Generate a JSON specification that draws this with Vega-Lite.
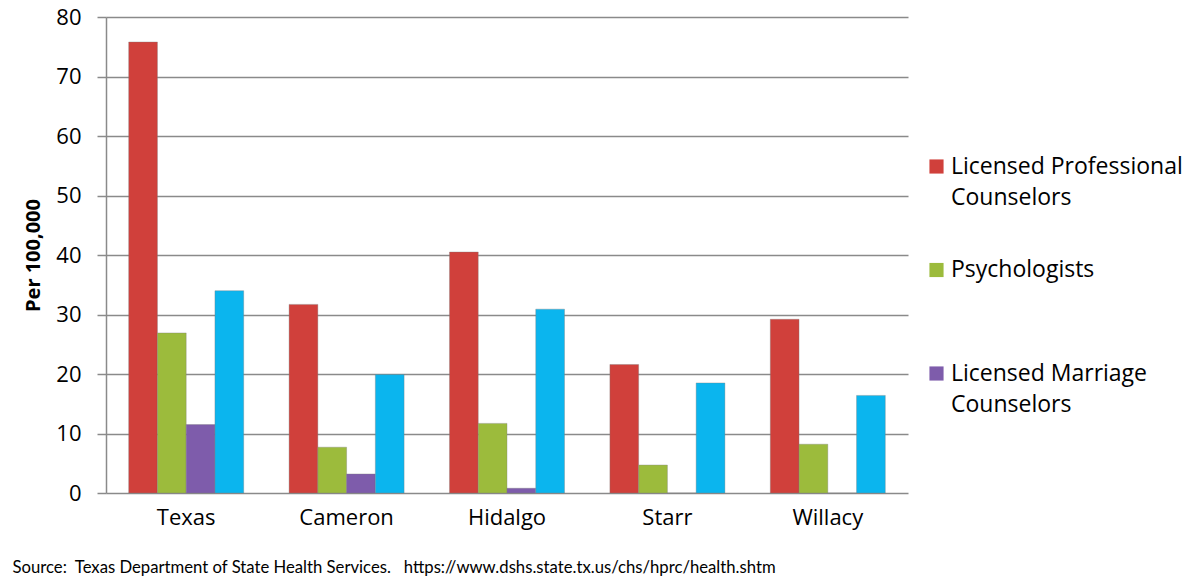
{
  "$schema": "https://vega.github.io/schema/vega-lite/v6.json",
  "autosize": {"type": "none"},
  "width": 802,
  "height": 476,
  "padding": {"left": 106, "top": 17, "right": 278, "bottom": 86},
  "background": "white",
  "title": {
    "text": "2014",
    "fontSize": 36,
    "font": "Open Sans",
    "fontWeight": "bold",
    "color": "black",
    "anchor": "start",
    "frame": "group",
    "dx": 459,
    "baseline": "bottom",
    "offset": 0
  },
  "data": {
    "values": [
      {"county": "Texas", "provider": "Licensed Professional Counselors", "value": 75.8},
      {"county": "Texas", "provider": "Psychologists", "value": 26.9},
      {"county": "Texas", "provider": "Licensed Marriage Counselors", "value": 11.5},
      {"county": "Texas", "provider": "Licensed Clinical Social Workers", "value": 34.0},
      {"county": "Cameron", "provider": "Licensed Professional Counselors", "value": 31.7},
      {"county": "Cameron", "provider": "Psychologists", "value": 7.7},
      {"county": "Cameron", "provider": "Licensed Marriage Counselors", "value": 3.2},
      {"county": "Cameron", "provider": "Licensed Clinical Social Workers", "value": 19.9},
      {"county": "Hidalgo", "provider": "Licensed Professional Counselors", "value": 40.5},
      {"county": "Hidalgo", "provider": "Psychologists", "value": 11.7},
      {"county": "Hidalgo", "provider": "Licensed Marriage Counselors", "value": 0.8},
      {"county": "Hidalgo", "provider": "Licensed Clinical Social Workers", "value": 30.9},
      {"county": "Starr", "provider": "Licensed Professional Counselors", "value": 21.6},
      {"county": "Starr", "provider": "Psychologists", "value": 4.7},
      {"county": "Starr", "provider": "Licensed Marriage Counselors", "value": 0},
      {"county": "Starr", "provider": "Licensed Clinical Social Workers", "value": 18.5},
      {"county": "Willacy", "provider": "Licensed Professional Counselors", "value": 29.2},
      {"county": "Willacy", "provider": "Psychologists", "value": 8.2},
      {"county": "Willacy", "provider": "Licensed Marriage Counselors", "value": 0},
      {"county": "Willacy", "provider": "Licensed Clinical Social Workers", "value": 16.4}
    ]
  },
  "mark": {"type": "bar", "stroke": "#7a7a7a", "strokeWidth": 0.6, "strokeOpacity": 0.6},
  "encoding": {
    "x": {
      "field": "county",
      "type": "nominal",
      "sort": ["Texas", "Cameron", "Hidalgo", "Starr", "Willacy"],
      "scale": {"paddingInner": 0.283, "paddingOuter": 0.1415},
      "axis": {
        "title": "Source:\u00a0 Texas Department of State Health Services.\u00a0\u00a0 https://www.dshs.state.tx.us/chs/hprc/health.shtm",
        "titleFont": "Lato",
        "titleFontSize": 16.7,
        "titleFontWeight": "normal",
        "titleColor": "black",
        "titleAnchor": "start",
        "titleAlign": "left",
        "titleX": -94,
        "titleY": 79,
        "titleBaseline": "alphabetic",
        "labelAngle": 0,
        "labelFont": "Open Sans",
        "labelFontSize": 22,
        "labelColor": "black",
        "labelPadding": 14,
        "ticks": false,
        "domain": false
      }
    },
    "xOffset": {
      "field": "provider",
      "type": "nominal",
      "sort": ["Licensed Professional Counselors", "Psychologists", "Licensed Marriage Counselors", "Licensed Clinical Social Workers"],
      "scale": {"paddingInner": 0, "paddingOuter": 0}
    },
    "y": {
      "field": "value",
      "type": "quantitative",
      "scale": {"domain": [0, 80], "nice": false},
      "axis": {
        "title": "Per 100,000",
        "titleFont": "Open Sans",
        "titleFontSize": 20,
        "titleFontWeight": "bold",
        "titleColor": "black",
        "titlePadding": 12,
        "values": [0, 10, 20, 30, 40, 50, 60, 70, 80],
        "labelFont": "Open Sans",
        "labelFontSize": 22,
        "labelLineHeight": 1,
        "labelColor": "black",
        "labelPadding": 16,
        "tickSize": 9,
        "tickColor": "#8a8a8a",
        "tickWidth": 1.5,
        "domainColor": "#8a8a8a",
        "domainWidth": 1.5,
        "gridColor": "#8a8a8a",
        "gridWidth": 1.5
      }
    },
    "color": {
      "field": "provider",
      "type": "nominal",
      "sort": ["Licensed Professional Counselors", "Psychologists", "Licensed Marriage Counselors", "Licensed Clinical Social Workers"],
      "scale": {
        "domain": ["Licensed Professional Counselors", "Psychologists", "Licensed Marriage Counselors", "Licensed Clinical Social Workers"],
        "range": ["#D0403B", "#9CBB3C", "#7E5CAB", "#0BB5EE"]
      },
      "legend": {
        "title": null,
        "orient": "none",
        "legendX": 819,
        "legendY": 138,
        "values": ["Licensed Professional Counselors", "Psychologists", "Licensed Marriage Counselors"],
        "symbolType": "square",
        "symbolSize": 200,
        "symbolStrokeWidth": 0,
        "labelFont": "Open Sans",
        "labelFontSize": 23,
        "labelColor": "black",
        "labelLimit": 400,
        "labelOffset": 3,
        "rowPadding": 48.5,
        "labelExpr": "datum.label == 'Licensed Professional Counselors' ? ['Licensed Professional', 'Counselors'] : datum.label == 'Licensed Marriage Counselors' ? ['Licensed Marriage', 'Counselors'] : ['Psychologists', '']"
      }
    }
  },
  "config": {
    "view": {"stroke": null},
    "style": {"guide-label": {"lineHeight": 31}}
  }
}
